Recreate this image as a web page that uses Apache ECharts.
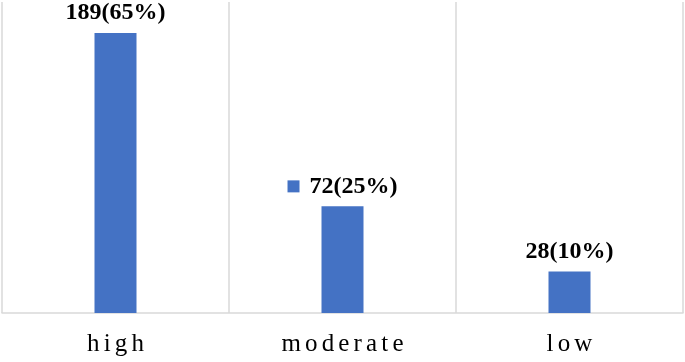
<!DOCTYPE html>
<html>
<head>
<meta charset="utf-8">
<script src="https://cdn.jsdelivr.net/npm/echarts@6/dist/echarts.min.js"></script>
<style>
  html, body { margin: 0; padding: 0; background: #fff; }
  #chart { width: 685px; height: 362px; }
</style>
</head>
<body>
<div id="chart"></div>
<script>
// 数据
const categories = ['high', 'moderate', 'low'];
const counts = [189, 72, 28];
const keyShown = [false, true, false]; // legend key next to the label

const total = counts.reduce((a, b) => a + b, 0);

const chart = echarts.init(document.getElementById('chart'));

const myoption = {
    backgroundColor: '#fff',
    animation: false,
    grid: { left: 2, right: 2, top: 2, bottom: 49 },
    xAxis: {
        type: 'category',
        data: categories,
        axisTick: { show: false },
        axisLine: { lineStyle: { color: '#d9d9d9', width: 1.5 } },
        splitLine: { show: true, lineStyle: { color: '#d9d9d9', width: 1.5 } },
        axisLabel: {
            margin: 19,
            fontFamily: 'Liberation Serif',
            fontSize: 25,
            color: '#000',
            formatter: v => v.split('').join('\u2006')
        }
    },
    yAxis: {
        type: 'value',
        min: 0,
        max: 210,
        show: false,
        splitLine: { show: false }
    },
    series: [{
        type: 'bar',
        barWidth: 42,
        itemStyle: { color: '#4472C4' },
        data: counts.map((v, i) => ({
            value: v,
            label: {
                formatter: (keyShown[i] ? '{sq|}   ' : '') + '{v|' + v + '(' + Math.round(v / total * 100) + '%)}'
            }
        })),
        label: {
            show: true,
            position: 'top',
            distance: 8,
            rich: {
                v: {
                    fontFamily: 'Liberation Serif',
                    fontWeight: 'bold',
                    fontSize: 24,
                    color: '#000'
                },
                sq: {
                    width: 12,
                    height: 12,
                    backgroundColor: '#4472C4'
                }
            }
        }
    }]
};

chart.setOption(myoption);

window.addEventListener('resize', function () {
    chart.resize();
});
</script>
</body>
</html>
